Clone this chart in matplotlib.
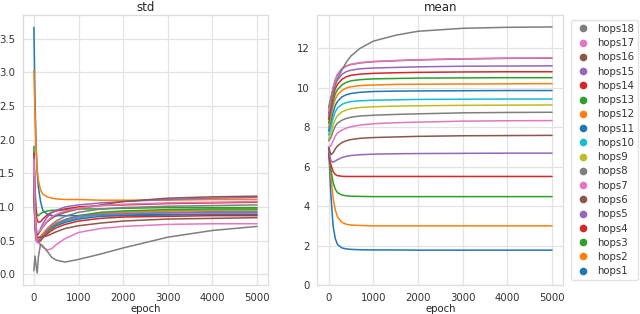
import matplotlib
matplotlib.use("Agg")
import matplotlib.pyplot as plt
import seaborn as sns
from matplotlib.lines import Line2D

sns.set_style("whitegrid")
plt.rcParams['font.family'] = ['DejaVu Sans']

labels = [f"hops{i}" for i in range(1, 19)]
colors = ['#1f77b4', '#ff7f0e', '#2ca02c', '#d62728', '#9467bd', '#8c564b',
          '#e377c2', '#7f7f7f', '#bcbd22', '#17becf', '#1f77b4', '#ff7f0e',
          '#2ca02c', '#d62728', '#9467bd', '#8c564b', '#e377c2', '#7f7f7f']

std_epochs = [0, 25, 50, 75, 100, 150, 200, 300, 400, 500, 700, 1000, 1500, 2000, 3000, 4000, 5000]
std_values = [
    [3.67, 2.6, 1.9, 1.5, 1.3, 1.08, 0.95, 0.89, 0.87, 0.87, 0.87, 0.87, 0.88, 0.88, 0.89, 0.89, 0.89],
    [3.03, 2.4, 1.85, 1.55, 1.4, 1.25, 1.19, 1.15, 1.13, 1.12, 1.11, 1.11, 1.10, 1.10, 1.10, 1.11, 1.11],
    [1.9, 1.3, 0.95, 0.88, 0.87, 0.9, 0.92, 0.94, 0.95, 0.95, 0.96, 0.97, 0.97, 0.98, 0.99, 0.99, 0.99],
    [1.8, 1.2, 0.9, 0.8, 0.77, 0.78, 0.82, 0.88, 0.92, 0.94, 0.97, 1.0, 1.02, 1.03, 1.05, 1.06, 1.07],
    [1.75, 1.0, 0.65, 0.58, 0.6, 0.68, 0.75, 0.85, 0.91, 0.95, 1.0, 1.03, 1.06, 1.08, 1.11, 1.13, 1.14],
    [1.5, 0.9, 0.62, 0.58, 0.6, 0.65, 0.7, 0.78, 0.83, 0.87, 0.92, 0.97, 1.03, 1.08, 1.13, 1.15, 1.16],
    [1.7, 1.0, 0.7, 0.62, 0.62, 0.66, 0.71, 0.79, 0.85, 0.89, 0.94, 0.98, 1.02, 1.04, 1.06, 1.07, 1.08],
    [1.2, 0.7, 0.5, 0.48, 0.5, 0.55, 0.6, 0.68, 0.74, 0.79, 0.86, 0.92, 0.97, 0.99, 1.01, 1.02, 1.03],
    [1.25, 0.75, 0.55, 0.5, 0.52, 0.56, 0.6, 0.67, 0.72, 0.76, 0.81, 0.86, 0.9, 0.92, 0.94, 0.95, 0.95],
    [1.3, 0.75, 0.55, 0.5, 0.5, 0.54, 0.58, 0.65, 0.7, 0.74, 0.79, 0.84, 0.88, 0.9, 0.92, 0.93, 0.93],
    [1.3, 0.75, 0.55, 0.5, 0.5, 0.53, 0.57, 0.63, 0.68, 0.72, 0.77, 0.82, 0.86, 0.87, 0.88, 0.89, 0.89],
    [1.35, 0.8, 0.58, 0.52, 0.52, 0.56, 0.6, 0.67, 0.72, 0.76, 0.81, 0.86, 0.9, 0.92, 0.94, 0.95, 0.96],
    [1.4, 0.8, 0.55, 0.48, 0.47, 0.5, 0.55, 0.63, 0.69, 0.74, 0.81, 0.87, 0.92, 0.94, 0.96, 0.97, 0.97],
    [1.4, 0.8, 0.55, 0.48, 0.47, 0.5, 0.54, 0.6, 0.65, 0.69, 0.74, 0.79, 0.83, 0.85, 0.86, 0.87, 0.87],
    [1.45, 0.8, 0.55, 0.48, 0.48, 0.52, 0.57, 0.65, 0.71, 0.75, 0.81, 0.86, 0.89, 0.9, 0.91, 0.92, 0.92],
    [1.45, 0.8, 0.57, 0.55, 0.55, 0.55, 0.56, 0.57, 0.6, 0.63, 0.68, 0.72, 0.76, 0.79, 0.82, 0.83, 0.84],
    [1.6, 0.9, 0.55, 0.48, 0.46, 0.44, 0.4, 0.36, 0.38, 0.44, 0.53, 0.62, 0.68, 0.71, 0.74, 0.75, 0.75],
    [0.05, 0.27, 0.12, 0.02, 0.25, 0.45, 0.42, 0.34, 0.25, 0.21, 0.18, 0.22, 0.3, 0.39, 0.55, 0.65, 0.71],
]

mean_epochs = [0, 50, 100, 150, 200, 300, 400, 500, 700, 1000, 1500, 2000, 3000, 4000, 5000]
mean_values = [
    [7.0, 4.6, 3.0, 2.35, 2.05, 1.88, 1.83, 1.81, 1.79, 1.78, 1.78, 1.77, 1.77, 1.77, 1.77],
    [6.8, 5.6, 4.4, 3.8, 3.45, 3.17, 3.08, 3.04, 3.02, 3.0, 3.0, 3.0, 3.0, 3.0, 3.0],
    [6.7, 5.85, 5.2, 4.85, 4.68, 4.56, 4.52, 4.5, 4.49, 4.48, 4.48, 4.48, 4.48, 4.48, 4.48],
    [6.6, 6.1, 5.75, 5.6, 5.54, 5.51, 5.5, 5.5, 5.5, 5.5, 5.5, 5.5, 5.5, 5.5, 5.5],
    [6.8, 6.3, 6.22, 6.28, 6.35, 6.46, 6.52, 6.56, 6.6, 6.63, 6.65, 6.66, 6.67, 6.68, 6.68],
    [7.0, 6.6, 6.7, 6.9, 7.05, 7.22, 7.31, 7.37, 7.43, 7.47, 7.5, 7.53, 7.56, 7.57, 7.58],
    [7.0, 7.05, 7.3, 7.55, 7.7, 7.85, 7.95, 8.02, 8.1, 8.17, 8.22, 8.25, 8.3, 8.32, 8.33],
    [7.3, 7.45, 7.8, 8.05, 8.2, 8.35, 8.44, 8.5, 8.56, 8.6, 8.64, 8.67, 8.72, 8.74, 8.75],
    [7.4, 7.7, 8.1, 8.4, 8.58, 8.77, 8.87, 8.93, 8.99, 9.03, 9.06, 9.08, 9.1, 9.11, 9.12],
    [7.6, 8.0, 8.45, 8.78, 8.97, 9.15, 9.24, 9.29, 9.33, 9.36, 9.38, 9.4, 9.41, 9.42, 9.42],
    [7.8, 8.3, 8.75, 9.1, 9.3, 9.53, 9.64, 9.7, 9.76, 9.8, 9.82, 9.83, 9.84, 9.85, 9.85],
    [8.0, 8.55, 9.05, 9.42, 9.63, 9.86, 9.98, 10.04, 10.1, 10.13, 10.16, 10.17, 10.18, 10.19, 10.2],
    [8.2, 8.8, 9.3, 9.68, 9.9, 10.14, 10.27, 10.34, 10.4, 10.44, 10.46, 10.48, 10.49, 10.5, 10.5],
    [8.4, 9.0, 9.55, 9.95, 10.17, 10.42, 10.55, 10.62, 10.68, 10.72, 10.75, 10.77, 10.79, 10.8, 10.8],
    [8.6, 9.2, 9.75, 10.16, 10.4, 10.67, 10.81, 10.88, 10.95, 10.99, 11.02, 11.05, 11.08, 11.09, 11.1],
    [8.75, 9.38, 9.97, 10.4, 10.66, 10.95, 11.09, 11.17, 11.25, 11.31, 11.36, 11.4, 11.45, 11.48, 11.49],
    [8.8, 9.4, 10.0, 10.42, 10.68, 10.97, 11.1, 11.18, 11.26, 11.32, 11.37, 11.41, 11.46, 11.49, 11.5],
    [9.0, 9.5, 9.85, 10.15, 10.45, 10.9, 11.3, 11.6, 11.98, 12.35, 12.65, 12.85, 13.0, 13.05, 13.07],
]

fig = plt.figure(figsize=(6.4, 3.14), dpi=100)
ax1 = fig.add_axes([0.0355, 0.092, 0.3835, 0.860])
ax2 = fig.add_axes([0.496, 0.092, 0.384, 0.860])

FS = 7.3
for i in range(18):
    ax1.plot(std_epochs, std_values[i], color=colors[i], lw=1.1)
    ax2.plot(mean_epochs, mean_values[i], color=colors[i], lw=1.1)

ax2.set_ylim(0, 13.67)
ax1.set_title("std", fontsize=8.5, pad=3)
ax2.set_title("mean", fontsize=8.5, pad=3)
for ax in (ax1, ax2):
    ax.set_xlabel("epoch", fontsize=FS, labelpad=1)
    ax.set_xticks([0, 1000, 2000, 3000, 4000, 5000])
    ax.tick_params(labelsize=FS, pad=2, colors='#333333')
    ax.grid(color='#e3e3e3', lw=0.9)
    for s in ax.spines.values():
        s.set_color('#dddddd')
        s.set_linewidth(0.9)
ax1.set_yticks([0.0, 0.5, 1.0, 1.5, 2.0, 2.5, 3.0, 3.5])
ax2.set_yticks([0, 2, 4, 6, 8, 10, 12])

handles = [Line2D([], [], marker='o', ls='none', color=colors[i], markersize=4.5)
           for i in range(17, -1, -1)]
leg = ax2.legend(handles, [labels[i] for i in range(17, -1, -1)],
                 loc='center left', bbox_to_anchor=(1.01, 0.5), fontsize=FS,
                 labelspacing=0.42, handletextpad=0.6, borderpad=0.4,
                 frameon=True, handlelength=1.6)
leg.get_frame().set_edgecolor('#dddddd')
for t in leg.get_texts():
    t.set_color('#333333')

fig.savefig("out.png", dpi=100)
